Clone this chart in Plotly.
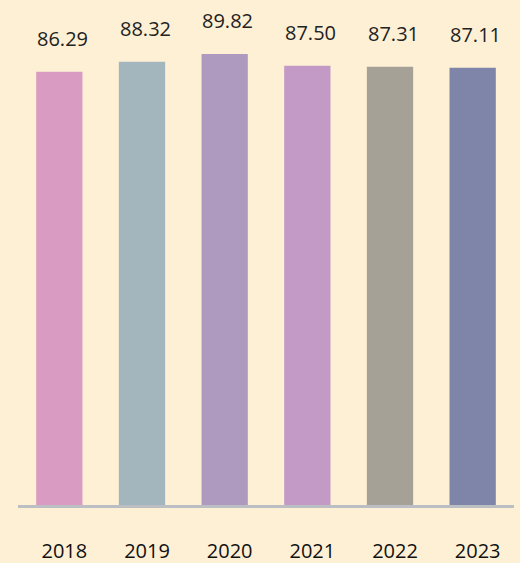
import plotly.graph_objects as go

# Data
years = ['2018', '2019', '2020', '2021', '2022', '2023']
values = [86.29, 88.32, 89.82, 87.50, 87.31, 87.11]
bar_colors = ['#D99BC1', '#A3B5BD', '#AE9ABE', '#C29AC5', '#A5A197', '#7F84A9']

fig = go.Figure()

fig.add_trace(go.Bar(
    x=years,
    y=values,
    marker=dict(color=bar_colors, line=dict(width=0)),
    hoverinfo='x+y'
))

# value labels floating above the bars (category index, numeric-looking
# strings would otherwise be read as positions)
for i, v in enumerate(values):
    fig.add_annotation(
        x=i, y=v, text=f'{v:.2f}',
        showarrow=False, yanchor='bottom', yshift=18, xshift=3,
        font=dict(family='Open Sans', size=20, color='#222222')
    )

fig.update_layout(
    width=520, height=563,
    margin=dict(l=18, r=6, t=3, b=58),
    paper_bgcolor='#FEF0D5',
    plot_bgcolor='#FEF0D5',
    bargap=0.44,
    showlegend=False,
    xaxis=dict(
        type='category', range=[-0.5, len(years) - 0.5],
        automargin=False,
        showgrid=False, zeroline=False,
        showline=True, linecolor='#BBBFC3', linewidth=3,
        ticks='', ticklabelstandoff=26, ticklabelshift=5,
        tickfont=dict(family='Open Sans', size=20, color='#111111')
    ),
    yaxis=dict(
        range=[0, 100], visible=False, showgrid=False, zeroline=False,
        automargin=False
    )
)

fig.write_html("out.html", config={'displayModeBar': False},
               post_script="document.body.style.margin='0';")
